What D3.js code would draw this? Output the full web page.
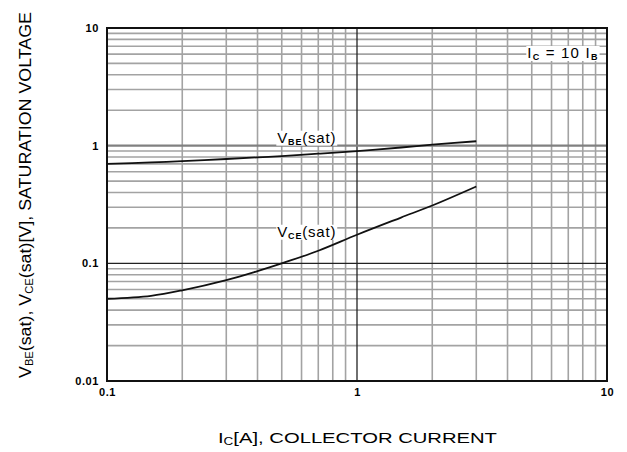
<html>
<head>
<script src="https://d3js.org/d3.v7.min.js"></script>
<style>
  body { margin: 0; background: #fff; }
  text { font-family: "Liberation Sans", Arial, sans-serif; fill: #000; }
</style>
</head>
<body>
<script>
// values
var ic  = [0.1, 0.15, 0.2, 0.3, 0.4, 0.5, 0.7, 1, 1.5, 2, 3];
var vbe = [0.70, 0.72, 0.74, 0.77, 0.795, 0.815, 0.855, 0.90, 0.965, 1.02, 1.09];
var vce = [0.050, 0.053, 0.059, 0.072, 0.086, 0.10, 0.128, 0.175, 0.245, 0.31, 0.45];

var xTicks = [0.1, 1, 10];
var xTickLabels = ["0.1", "1", "10"];
var yTicks = [0.01, 0.1, 1, 10];
var yTickLabels = ["0.01", "0.1", "1", "10"];

var margin = {top: 28, right: 20, bottom: 71, left: 107},
    width = 627 - margin.left - margin.right,
    height = 452 - margin.top - margin.bottom;

var svg = d3.select("body").append("svg")
    .attr("width", 627).attr("height", 452)
  .append("g")
    .attr("transform", "translate(" + margin.left + "," + margin.top + ")");

var x = d3.scaleLog().domain([0.1, 10]).range([0, width]);
var y = d3.scaleLog().domain([0.01, 10]).range([height, 0]);

// minor grid values 2..9 in each decade
var minorX = [], minorY = [];
[0.1, 1].forEach(function(d) { for (var k = 2; k < 10; k++) minorX.push(d * k); });
[0.01, 0.1, 1].forEach(function(d) { for (var k = 2; k < 10; k++) minorY.push(d * k); });

svg.append("g")
  .selectAll("line").data(minorX).enter().append("line")
    .attr("x1", d => x(d)).attr("x2", d => x(d))
    .attr("y1", 0).attr("y2", height)
    .attr("stroke", "#a3a3a3").attr("stroke-width", 1.6);

svg.append("g")
  .selectAll("line").data(minorY).enter().append("line")
    .attr("y1", d => y(d)).attr("y2", d => y(d))
    .attr("x1", 0).attr("x2", width)
    .attr("stroke", "#a3a3a3").attr("stroke-width", 1.6);

// decade lines
svg.append("line").attr("x1", x(1)).attr("x2", x(1)).attr("y1", 0).attr("y2", height)
    .attr("stroke", "#222").attr("stroke-width", 1.3);
svg.append("line").attr("y1", y(0.1)).attr("y2", y(0.1)).attr("x1", 0).attr("x2", width)
    .attr("stroke", "#222").attr("stroke-width", 1.3);
svg.append("line").attr("y1", y(1)).attr("y2", y(1)).attr("x1", 0).attr("x2", width)
    .attr("stroke", "#808080").attr("stroke-width", 2.2);

// frame
svg.append("rect").attr("x", 0).attr("y", 0).attr("width", width).attr("height", height)
    .attr("fill", "none").attr("stroke", "#111").attr("stroke-width", 2);

// axes labels (no tick marks)
var xAxis = svg.append("g")
    .attr("transform", "translate(0," + height + ")")
    .call(d3.axisBottom(x).tickValues(xTicks).tickSize(0).tickPadding(7)
        .tickFormat((d, i) => xTickLabels[i]));
xAxis.select(".domain").remove();

var yAxis = svg.append("g")
    .call(d3.axisLeft(y).tickValues(yTicks).tickSize(0).tickPadding(8)
        .tickFormat((d, i) => yTickLabels[i]));
yAxis.select(".domain").remove();

svg.selectAll(".tick text")
    .style("font-family", "'Liberation Sans', Arial, sans-serif")
    .style("font-size", "11px").style("font-weight", "bold")
    .style("letter-spacing", "0.6px").attr("fill", "#000");

// curves
var line = d3.line()
    .x(d => x(d[0])).y(d => y(d[1]))
    .curve(d3.curveCatmullRom.alpha(0.5));

svg.append("path").datum(ic.map((d, i) => [d, vbe[i]]))
    .attr("d", line).attr("fill", "none").attr("stroke", "#111").attr("stroke-width", 1.8);
svg.append("path").datum(ic.map((d, i) => [d, vce[i]]))
    .attr("d", line).attr("fill", "none").attr("stroke", "#111").attr("stroke-width", 1.8);

// labels with white backing
function label(px, py, parts, spacing) {
  var g = svg.append("g");
  var bg = g.append("rect").attr("fill", "#fff");
  var t = g.append("text").attr("x", px).attr("y", py)
      .style("font-size", "15px").style("letter-spacing", spacing + "px");
  var low = false;
  parts.forEach(function(p) {
    var s = t.append("tspan").text(p[0]);
    if (p[1]) {
      s.style("font-size", "9px").style("font-weight", "bold");
      if (!low) { s.attr("dy", 2); low = true; }
    } else if (low) { s.attr("dy", -2); low = false; }
  });
  var b = t.node().getBBox();
  bg.attr("x", b.x - 1).attr("y", b.y + 2).attr("width", b.width + 2).attr("height", b.height - 3);
}
label(x(0.48), y(1) - 3, [["V"], ["BE", 1], ["(sat)"]], 0.8);
label(x(0.48), y(0.175) + 2, [["V"], ["CE", 1], ["(sat)"]], 0.8);
label(x(4.8), 30, [["I"], ["C", 1], [" = 10 I"], ["B", 1]], 1.2);

// axis titles
svg.append("text")
    .attr("x", 218 - margin.left).attr("y", 443 - margin.top)
    .attr("textLength", 279).attr("lengthAdjust", "spacingAndGlyphs")
    .style("font-size", "15px")
    .html("I<tspan font-size='10px' dy='2'>C</tspan><tspan dy='-2'>[A], COLLECTOR CURRENT</tspan>");

svg.append("text")
    .attr("transform", "translate(" + (31 - margin.left) + "," + (378 - margin.top) + ") rotate(-90)")
    .attr("textLength", 366).attr("lengthAdjust", "spacingAndGlyphs")
    .style("font-size", "16px")
    .html("V<tspan font-size='10px' dy='2'>BE</tspan><tspan dy='-2'>(sat), V</tspan><tspan font-size='10px' dy='2'>CE</tspan><tspan dy='-2'>(sat)[V], SATURATION VOLTAGE</tspan>");
</script>
</body>
</html>
